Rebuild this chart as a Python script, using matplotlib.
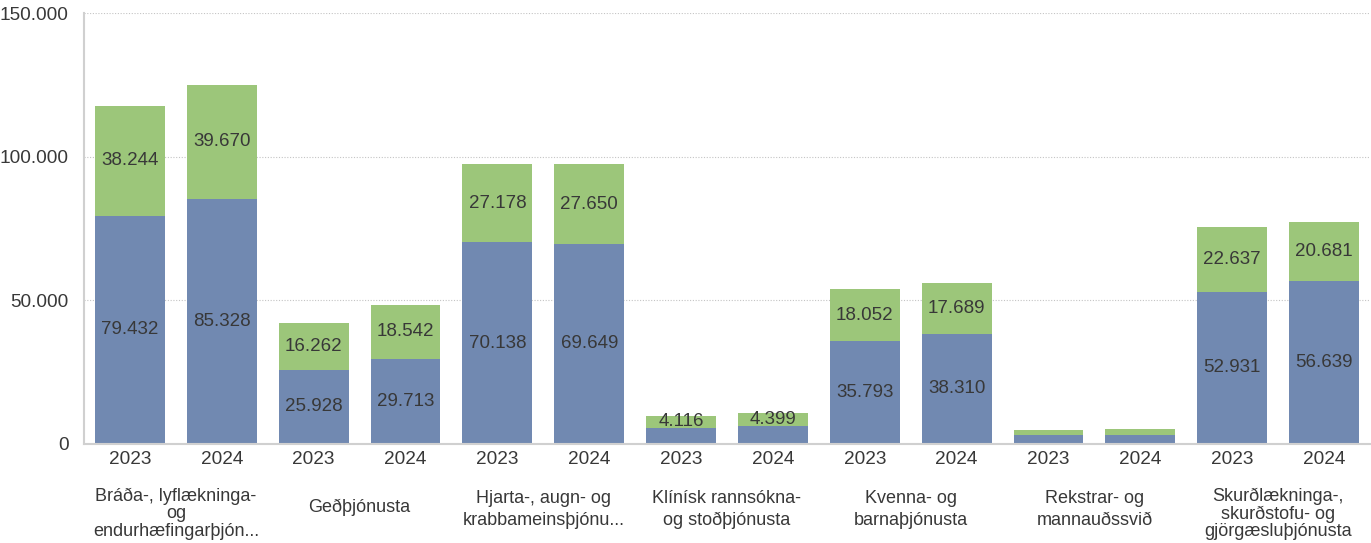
import matplotlib.pyplot as plt
import numpy as np

plt.rcParams['font.family'] = ['Liberation Sans', 'DejaVu Sans']

# Sviðin og árin
svid = ['Bráða-, lyflækninga-\nog\nendurhæfingarþjón...',
        'Geðþjónusta',
        'Hjarta-, augn- og\nkrabbameinsþjónu...',
        'Klínísk rannsókna-\nog stoðþjónusta',
        'Kvenna- og\nbarnaþjónusta',
        'Rekstrar- og\nmannauðssvið',
        'Skurðlækninga-,\nskurðstofu- og\ngjörgæsluþjónusta']
ar = ['2023', '2024']

# Neðri hluti (blár) og efri hluti (grænn) hverrar súlu, röð: svið x ár
blatt = [79432, 85328, 25928, 29713, 70138, 69649, 5600, 6300,
         35793, 38310, 3100, 3100, 52931, 56639]
graent = [38244, 39670, 16262, 18542, 27178, 27650, 4116, 4399,
          18052, 17689, 1700, 2000, 22637, 20681]
# Merkingar sem eru ekki sýndar á litlum súlum
syna_blatt = [True] * 6 + [False, False] + [True] * 2 + [False, False] + [True] * 2
syna_graent = [True] * 10 + [False, False] + [True] * 2

BLAR = '#7189b1'
GRAENN = '#9cc67a'
TEXTI = '#383838'


def fmt(v):
    return f'{v:,.0f}'.replace(',', '.')


fig = plt.figure(figsize=(13.71, 5.43), dpi=100)
ax = fig.add_axes([84 / 1371, 99 / 543, 1286 / 1371, 431 / 543])

x = np.arange(len(blatt))
ax.bar(x, blatt, width=0.76, color=BLAR, zorder=2)
ax.bar(x, graent, width=0.76, bottom=blatt, color=GRAENN, zorder=2)

for i in x:
    if syna_blatt[i]:
        ax.text(i, blatt[i] / 2, fmt(blatt[i]), ha='center', va='center',
                fontsize=13.5, color=TEXTI, zorder=3)
    if syna_graent[i]:
        ax.text(i, blatt[i] + graent[i] / 2, fmt(graent[i]), ha='center',
                va='center', fontsize=13.5, color=TEXTI, zorder=3)

ax.set_xlim(-0.5, len(blatt) - 0.5)
ax.set_ylim(0, 150000)
ax.set_yticks([0, 50000, 100000, 150000])
ax.set_yticklabels([fmt(v) for v in [0, 50000, 100000, 150000]])
ax.set_xticks(x)
ax.set_xticklabels(ar * len(svid))
ax.tick_params(axis='both', length=0, labelsize=13.7, colors=TEXTI)
ax.tick_params(axis='y', pad=11)
ax.tick_params(axis='x', pad=5)

ax.yaxis.grid(True, linestyle=(0, (1, 1.5)), color='#c4c4c4', linewidth=0.8, zorder=0)
for s in ['top', 'right']:
    ax.spines[s].set_visible(False)
for s in ['left', 'bottom']:
    ax.spines[s].set_color('#d0d0d0')
    ax.spines[s].set_linewidth(1.5)

# Heiti sviða undir hverju pari af súlum; bil milli lína fer eftir fjölda lína
stadsetning = {1: (-0.146, 1.0), 2: (-0.152, 1.35), 3: (-0.162, 1.05)}
for k, nafn in enumerate(svid):
    yy, bil = stadsetning[nafn.count('\n') + 1]
    ax.text(2 * k + 0.5, yy, nafn, transform=ax.get_xaxis_transform(),
            ha='center', va='center', fontsize=13, color=TEXTI,
            linespacing=bil)

fig.savefig('out.png', dpi=100)
